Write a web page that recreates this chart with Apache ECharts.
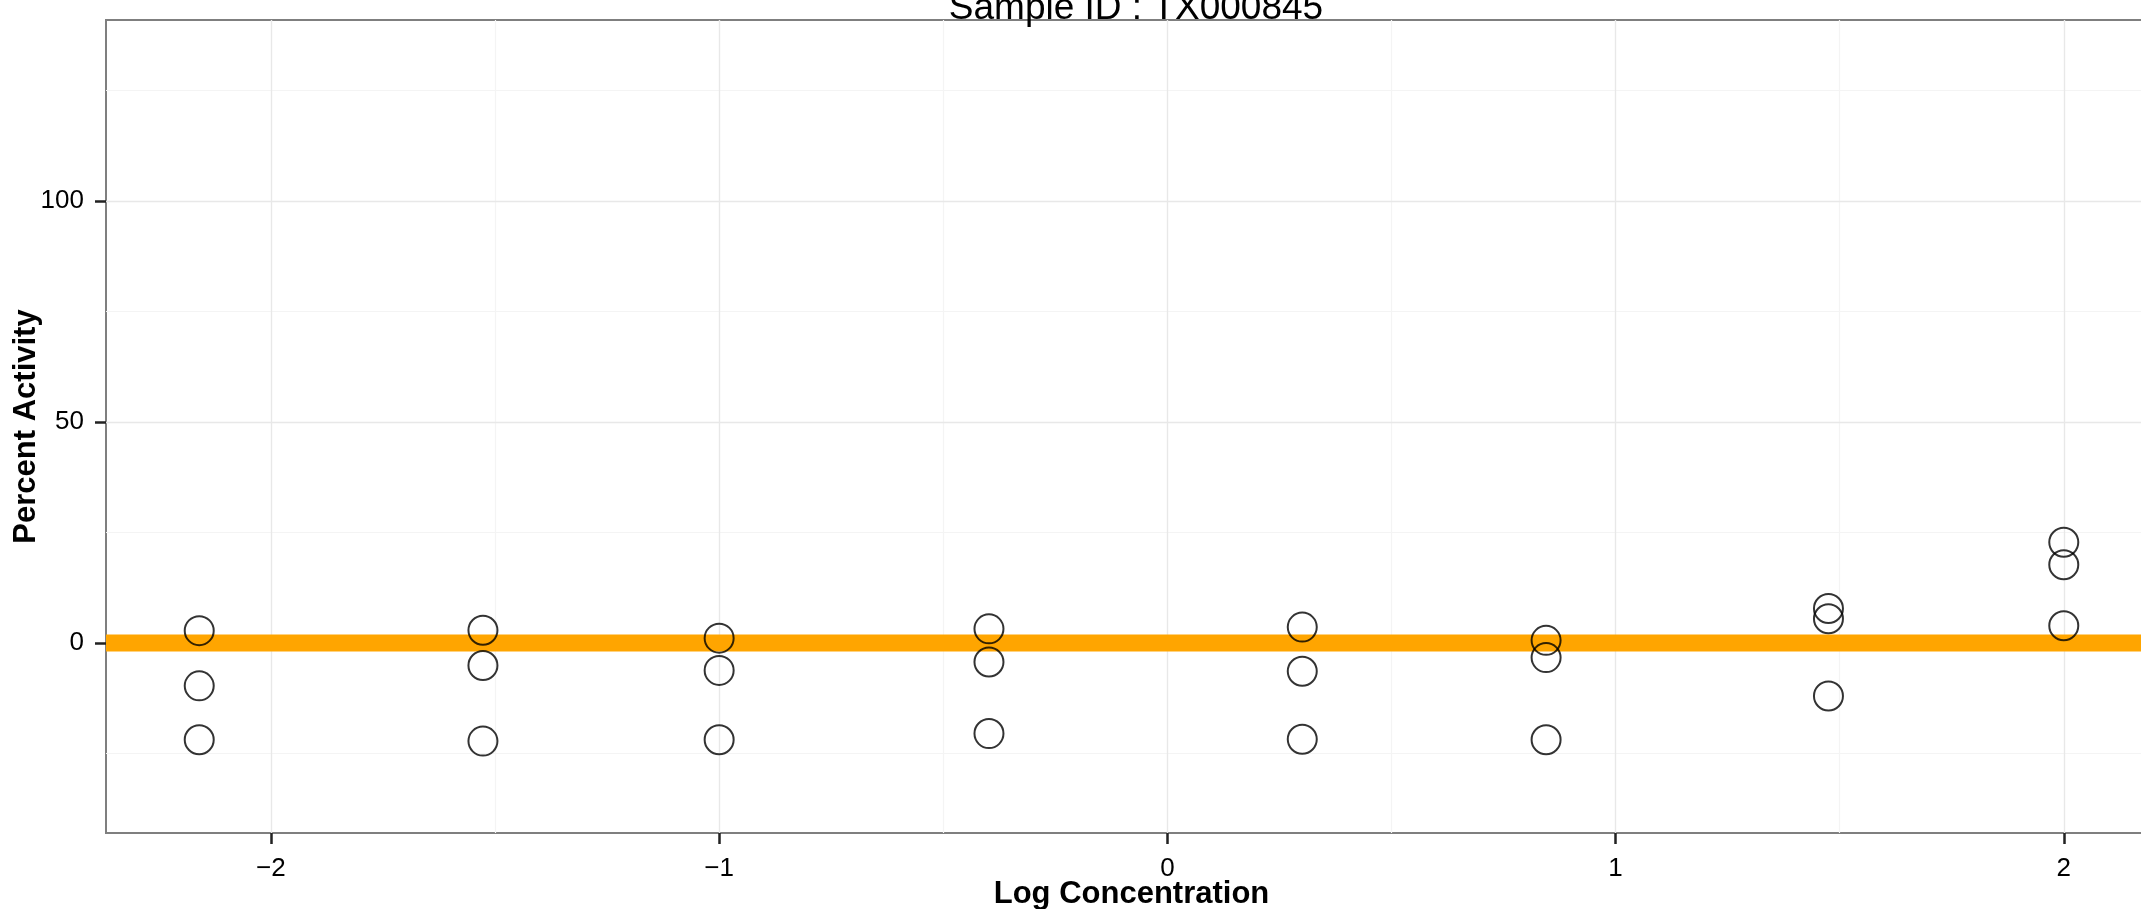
<!DOCTYPE html>
<html>
<head>
<meta charset="utf-8">
<script src="https://cdn.jsdelivr.net/npm/echarts@6/dist/echarts.min.js"></script>
<style>
html,body{margin:0;padding:0;background:#fff;}
#chart{width:2141px;height:909px;}
</style>
</head>
<body>
<div id="chart"></div>
<script>
// ---- data ----
var logConc = [-2.16, -1.527, -1.0, -0.398, 0.301, 0.845, 1.475, 2.0];
var rep1 = [2.8, 2.9, 1.1, 3.2, 3.6, 0.6, 7.8, 22.8];
var rep2 = [-9.7, -5.1, -6.2, -4.3, -6.4, -3.3, 5.5, 17.7];
var rep3 = [-21.9, -22.2, -21.9, -20.5, -21.8, -21.9, -12.0, 3.9];
var fitX = [-2.368, 2.208];
var fitY = [0, 0];
var xTicks = [-2, -1, 0, 1, 2];
var xMinor = [-1.5, -0.5, 0.5, 1.5];
var yTicks = [0, 50, 100];
var yMinor = [-25, 25, 75, 125];
var xRange = [-2.368, 2.208];
var yRange = [-43, 141];
var titleText = 'Sample ID : TX000845';

var FONT = '"Liberation Sans", Arial, Helvetica, sans-serif';

var points = [];
[rep1, rep2, rep3].forEach(function (rep) {
  rep.forEach(function (v, i) { points.push([logConc[i], v]); });
});
var fitLine = fitX.map(function (x, i) { return [x, fitY[i]]; });

function minusFmt(v) {
  return v < 0 ? '\u2212' + Math.abs(v) : String(v);
}

var gridLines = [];
xMinor.forEach(function (v) { gridLines.push({ xAxis: v, lineStyle: { color: '#f4f4f4', width: 1.2 } }); });
yMinor.forEach(function (v) { gridLines.push({ yAxis: v, lineStyle: { color: '#f4f4f4', width: 1.2 } }); });
xTicks.forEach(function (v) { gridLines.push({ xAxis: v, lineStyle: { color: '#e8e8e8', width: 1.4 } }); });
yTicks.forEach(function (v) { gridLines.push({ yAxis: v, lineStyle: { color: '#e8e8e8', width: 1.4 } }); });

var chart = echarts.init(document.getElementById('chart'), null, { renderer: 'canvas' });
chart.setOption({
  animation: false,
  backgroundColor: '#ffffff',
  title: {
    text: titleText,
    left: 1131,
    textAlign: 'center',
    top: -15,
    textStyle: { fontFamily: FONT, fontSize: 37, fontWeight: 'normal', color: '#000' }
  },
  grid: {
    left: 106, top: 20, width: 2051, height: 813,
    outerBoundsMode: 'none',
    containLabel: false,
    show: true, borderColor: '#7f7f7f', borderWidth: 2, backgroundColor: 'transparent'
  },
  xAxis: {
    type: 'value',
    min: xRange[0], max: xRange[1],
    name: 'Log Concentration',
    nameLocation: 'middle',
    nameGap: 46,
    nameMoveOverlap: false,
    nameTextStyle: { fontFamily: FONT, fontSize: 31, fontWeight: 'bold', color: '#000' },
    axisLine: { show: true, onZero: false, lineStyle: { color: '#7f7f7f', width: 2 } },
    axisTick: { show: true, inside: false, customValues: xTicks, length: 11, lineStyle: { color: '#222', width: 2.5 } },
    axisLabel: { show: true, customValues: xTicks, margin: 23, formatter: minusFmt,
      fontFamily: FONT, fontSize: 26, color: '#000' },
    splitLine: { show: false }
  },
  yAxis: {
    type: 'value',
    min: yRange[0], max: yRange[1],
    name: 'Percent Activity',
    nameLocation: 'middle',
    nameGap: 64,
    nameMoveOverlap: false,
    nameRotate: 90,
    nameTextStyle: { fontFamily: FONT, fontSize: 31, fontWeight: 'bold', color: '#000' },
    axisLine: { show: true, onZero: false, lineStyle: { color: '#7f7f7f', width: 2 } },
    axisTick: { show: true, inside: false, customValues: yTicks, length: 11, lineStyle: { color: '#222', width: 2.5 } },
    axisLabel: { show: true, customValues: yTicks, margin: 22, formatter: minusFmt,
      fontFamily: FONT, fontSize: 26, color: '#000' },
    splitLine: { show: false }
  },
  series: [
    {
      type: 'line', data: [], z: 1, silent: true,
      markLine: {
        silent: true, symbol: 'none', animation: false, z: 1,
        label: { show: false },
        lineStyle: { type: 'solid' },
        data: gridLines
      }
    },
    {
      type: 'line', data: fitLine, z: 2, silent: true,
      showSymbol: false, symbol: 'none',
      lineStyle: { color: '#FFA500', width: 17 }
    },
    {
      type: 'scatter', data: points, z: 3,
      symbol: 'circle', symbolSize: 29,
      itemStyle: { color: 'rgba(0,0,0,0)', borderColor: '#000', borderWidth: 2 }
    }
  ]
});
</script>
</body>
</html>
